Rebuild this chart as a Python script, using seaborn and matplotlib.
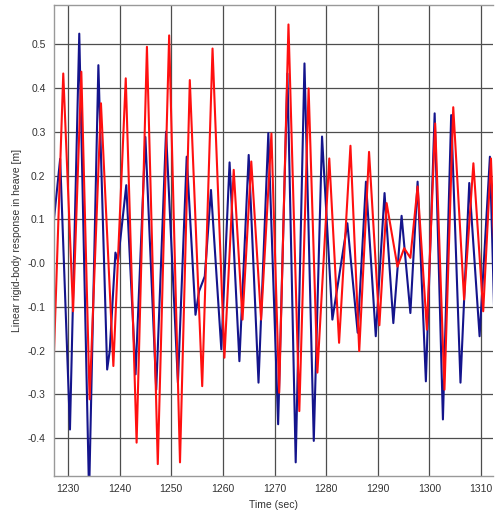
import matplotlib
matplotlib.use('Agg')
import matplotlib.pyplot as plt
import matplotlib.ticker as mticker
import numpy as np
import pandas as pd
import seaborn as sns

# Heave response (turning points of each trace)
navy_t = [1227.3, 1228.5, 1230.4, 1232.2, 1234.1, 1235.9, 1237.6, 1238.1, 1239.2, 1239.7,
          1241.3, 1243.1, 1245.0, 1247.1, 1249.0, 1251.3, 1253.0, 1254.7, 1255.4, 1256.5,
          1257.7, 1259.7, 1261.3, 1263.2, 1265.0, 1266.9, 1268.8, 1270.7, 1272.5, 1274.1,
          1275.8, 1277.6, 1279.2, 1281.2, 1284.1, 1286.1, 1287.7, 1289.6, 1291.3, 1293.0,
          1294.6, 1296.3, 1297.7, 1299.3, 1301.0, 1302.6, 1304.2, 1306.0, 1307.7, 1309.7,
          1311.7, 1312.5]
navy_v = [0.10, 0.238, -0.38, 0.524, -0.53, 0.452, -0.243, -0.20, 0.024, 0.005,
          0.178, -0.254, 0.288, -0.289, 0.30, -0.273, 0.243, -0.118, -0.064, -0.03,
          0.167, -0.197, 0.23, -0.224, 0.247, -0.273, 0.297, -0.368, 0.433, -0.455,
          0.456, -0.406, 0.289, -0.129, 0.091, -0.159, 0.186, -0.167, 0.16, -0.137,
          0.108, -0.114, 0.186, -0.27, 0.342, -0.357, 0.338, -0.273, 0.183, -0.167,
          0.243, -0.10]

red_t = [1227.2, 1229.1, 1231.0, 1232.6, 1234.2, 1236.4, 1238.8, 1241.2, 1243.3, 1245.3,
         1247.4, 1249.6, 1251.7, 1253.6, 1256.0, 1258.0, 1260.3, 1262.1, 1263.8, 1265.5,
         1267.4, 1269.4, 1270.9, 1272.7, 1274.8, 1276.6, 1278.3, 1280.6, 1282.5, 1284.7,
         1286.4, 1288.3, 1290.3, 1291.7, 1293.8, 1295.1, 1296.3, 1297.7, 1299.5, 1301.1,
         1302.9, 1304.6, 1306.7, 1308.5, 1310.4, 1311.9, 1312.5]
red_v = [-0.243, 0.433, -0.11, 0.437, -0.311, 0.365, -0.235, 0.422, -0.41, 0.494,
         -0.459, 0.52, -0.455, 0.418, -0.281, 0.49, -0.216, 0.213, -0.129, 0.232,
         -0.129, 0.296, -0.296, 0.545, -0.338, 0.399, -0.25, 0.239, -0.182, 0.268,
         -0.201, 0.254, -0.142, 0.137, -0.008, 0.034, 0.012, 0.175, -0.152, 0.319,
         -0.289, 0.356, -0.083, 0.228, -0.11, 0.239, 0.05]

x_ticks = [1230, 1240, 1250, 1260, 1270, 1280, 1290, 1300, 1310]
y_ticks = [0.5, 0.4, 0.3, 0.2, 0.1, 0.0, -0.1, -0.2, -0.3, -0.4]
y_labels = ['0.5', '0.4', '0.3', '0.2', '0.1', '-0.0', '-0.1', '-0.2', '-0.3', '-0.4']

navy_df = pd.DataFrame({'t': navy_t, 'v': navy_v})
red_df = pd.DataFrame({'t': red_t, 'v': red_v})

sns.set_style('white')
plt.rcParams['font.family'] = ['Liberation Sans', 'DejaVu Sans']

fig = plt.figure(figsize=(4.95, 5.19), dpi=100)
ax = fig.add_axes([0.109, 0.083, 0.887, 0.907])

sns.lineplot(data=navy_df, x='t', y='v', sort=False, estimator=None,
             color='#14148c', lw=1.5, ax=ax)
sns.lineplot(data=red_df, x='t', y='v', sort=False, estimator=None,
             color='#ff1010', lw=1.5, ax=ax)

ax.set_xlim(1227.3, 1312.3)
ax.set_ylim(-0.486, 0.589)

ax.set_xticks(x_ticks)
ax.xaxis.set_minor_locator(mticker.MultipleLocator(5))
ax.set_yticks(y_ticks)
ax.set_yticklabels(y_labels)
ax.yaxis.set_minor_locator(mticker.MultipleLocator(0.05))

ax.grid(True, which='major', color='0.3', lw=0.9)
ax.set_axisbelow(True)
ax.tick_params(axis='both', which='major', labelsize=7.5, length=0, pad=6, colors='0.2')
ax.tick_params(axis='both', which='minor', length=3, color='0.3', direction='out')
ax.tick_params(axis='y', which='minor', direction='in')

for side in ['top', 'left', 'bottom']:
    ax.spines[side].set_color('0.6')
    ax.spines[side].set_linewidth(1.0)
ax.spines['right'].set_visible(False)

ax.set_xlabel('Time (sec)', fontsize=7.5, color='0.2', labelpad=4)
ax.set_ylabel('Linear rigid-body response in heave [m]', fontsize=7.5, color='0.2', labelpad=4)

plt.savefig('out.png', dpi=100)
plt.close()
